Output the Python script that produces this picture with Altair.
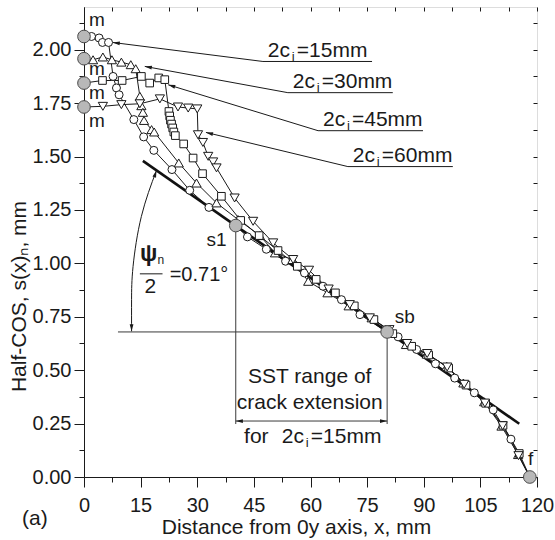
import math
import altair as alt
import pandas as pd

# plot area and value ranges
W, H = 453, 470
X_MAX, Y_MAX = 120.0, 2.2
PX_X, PX_Y = W / X_MAX, H / Y_MAX

FONT = "Liberation Sans"
INK = "#1a1a1a"
THIN = "#3a3a3a"

# half crack opening profiles s(x)_n for four initial crack lengths 2c_i
x_15 = [0, 2.0, 4.0, 4.9, 6.5, 7.7, 8.6, 9.3, 13.2, 15.8, 18.5, 23.3, 28.0, 33.1,
        40.2, 43.3, 48.3, 53.4, 58.4, 63.3, 68.2, 73.1, 80.3, 83.2, 88.1, 93.1,
        98.2, 103.4, 108.4, 113.1, 118.1]
s_15 = [2.062, 2.062, 2.055, 2.034, 2.034, 1.875, 1.821, 1.789, 1.673, 1.592, 1.529,
        1.439, 1.342, 1.262, 1.177, 1.124, 1.066, 1.010, 0.955, 0.893, 0.830, 0.760,
        0.679, 0.656, 0.597, 0.530, 0.463, 0.394, 0.314, 0.177, 0.0]

x_30 = [0, 2.4, 5.0, 7.4, 9.9, 12.4, 13.7, 14.8, 15.2, 15.6, 15.9, 17.9, 18.6, 25.1,
        29.8, 35.1, 40.8, 46.6, 50.6, 55.2, 59.4, 64.5, 70.1, 76.2, 80.9, 85.3, 90.8,
        96.1, 100.5, 106.0, 110.6, 115.0, 118.1]
s_30 = [1.958, 1.953, 1.966, 1.953, 1.942, 1.930, 1.911, 1.782, 1.738, 1.707, 1.669,
        1.626, 1.615, 1.470, 1.376, 1.283, 1.205, 1.130, 1.049, 1.018, 0.916, 0.862,
        0.801, 0.745, 0.684, 0.620, 0.575, 0.518, 0.440, 0.352, 0.238, 0.105, 0.0]

x_45 = [0, 4.9, 10.1, 15.2, 17.4, 19.8, 21.4, 22.5, 22.7, 22.9, 23.2, 23.5, 23.8, 24.2,
        26.4, 28.9, 31.4, 36.4, 41.5, 46.4, 51.4, 56.5, 61.5, 66.6, 71.6, 76.8, 81.8,
        86.8, 91.3, 96.6, 101.2, 106.4, 111.0, 115.3, 118.1]
s_45 = [1.844, 1.856, 1.856, 1.875, 1.844, 1.868, 1.860, 1.711, 1.690, 1.670, 1.652,
        1.634, 1.615, 1.598, 1.559, 1.493, 1.420, 1.314, 1.201, 1.130, 1.060, 0.986,
        0.925, 0.862, 0.801, 0.737, 0.671, 0.612, 0.571, 0.510, 0.430, 0.345, 0.242,
        0.110, 0.0]

x_60 = [0, 5.0, 9.9, 14.8, 20.1, 24.9, 27.6, 30.0, 30.2, 31.5, 32.9, 34.2, 35.1, 39.9,
        44.8, 50.1, 55.4, 59.6, 64.8, 70.4, 75.7, 80.9, 85.6, 90.9, 96.2, 100.7, 106.2,
        110.9, 115.1, 118.1]
s_60 = [1.732, 1.735, 1.743, 1.747, 1.770, 1.732, 1.727, 1.723, 1.602, 1.566, 1.501,
        1.475, 1.447, 1.306, 1.197, 1.096, 1.018, 0.968, 0.880, 0.807, 0.745, 0.690,
        0.625, 0.578, 0.515, 0.434, 0.346, 0.240, 0.100, 0.0]

series_names = ["15", "30", "45", "60"]
series_shapes = ["circle", "triangle-up", "square", "triangle-down"]
series_sizes = [64, 85, 58, 85]

# characteristic points: m (mouth), s1, sb, f (front)
key_x = [0, 0, 0, 0, 40.2, 80.3, 118.1]
key_s = [2.062, 1.958, 1.844, 1.732, 1.177, 0.679, 0.0]

# straight-line fit of the stable part of the profile
fit_x = [15.6, 115.3]
fit_s = [1.480, 0.249]

# leader lines for the 2c_i labels: arrow tip, knee, end of underline
lead_mm = ["=15mm", "=30mm", "=45mm", "=60mm"]
tip_x = [7.6, 16.1, 22.3, 32.3]
tip_s = [2.034, 1.922, 1.836, 1.613]
knee_x = [47.4, 54.0, 62.0, 69.9]
knee_s = [1.945, 1.799, 1.621, 1.453]
end_x = [76.3, 81.8, 89.8, 97.7]

# angle arc between the fit line and the horizontal through sb
arc_x = [19.2, 15.2, 13.0, 12.6, 12.6]
arc_s = [1.435, 1.220, 0.986, 0.830, 0.682]

SST_Y = 0.262      # level of the SST range arrow
DROP_Y = 0.248     # lower end of the s1 / sb drop lines
HLINE_X0 = 9.0     # start of the horizontal reference line


def xq(axis=None):
    return alt.X("x:Q", scale=alt.Scale(domain=[0, X_MAX], nice=False, zero=False), axis=axis)


def yq(axis=None):
    return alt.Y("y:Q", scale=alt.Scale(domain=[0, Y_MAX], nice=False, zero=False), axis=axis)


x_axis = alt.Axis(
    orient="bottom",
    values=[i * 7.5 for i in range(17)],
    labelExpr="datum.value % 15 === 0 ? format(datum.value, 'd') : ''",
    tickSize={"condition": {"test": "datum.value % 15 !== 0", "value": 5}, "value": 10},
    labelPadding=8, labelFontSize=20, labelFont=FONT, labelColor=INK,
    domainColor=INK, tickColor=INK, grid=False, labelFlush=False,
    title="Distance from 0y axis, x, mm", titleFont=FONT, titleFontSize=21,
    titleFontWeight="normal", titleColor=INK, titleX=212, titleY=56,
    titleAlign="center", titleBaseline="alphabetic",
)
y_axis = alt.Axis(
    orient="left",
    values=[i * 0.125 for i in range(18)],
    labelExpr="round(datum.value * 8) % 2 === 0 ? format(datum.value, '.2f') : ''",
    tickSize={"condition": {"test": "round(datum.value * 8) % 2 === 1", "value": 5}, "value": 10},
    labelPadding=3, labelFontSize=20, labelFont=FONT, labelColor=INK,
    domainColor=INK, tickColor=INK, grid=False, labelFlush=False,
    title="Half-COS, s(x)ₙ, mm", titleFont=FONT, titleFontSize=21,
    titleFontWeight="normal", titleColor=INK, titleAngle=270, titleX=-59, titleY=289,
    titleAlign="center", titleBaseline="alphabetic",
)
# short inward ticks on the top and right frame
top_axis = alt.Axis(orient="top", values=[i * 7.5 for i in range(17)], labels=False,
                    domain=False, tickSize=4, offset=-4, tickColor=INK, grid=False, title=None)
right_axis = alt.Axis(orient="right", values=[i * 0.125 for i in range(18)], labels=False,
                      domain=False, tickSize=4, offset=-4, tickColor=INK, grid=False, title=None)

# long table of all profiles
rows = []
for name, xs, ss in zip(series_names, [x_15, x_30, x_45, x_60], [s_15, s_30, s_45, s_60]):
    n = len(xs)
    for i, (a, b) in enumerate(zip(xs, ss)):
        rows.append({"series": name, "i": i, "x": a, "y": b, "mark": 0 < i < n - 1})
prof = pd.DataFrame(rows)

lines = alt.Chart(prof).mark_line(color=INK, strokeWidth=1).encode(
    x=xq(x_axis), y=yq(y_axis), detail="series:N", order="i:Q")

fit = alt.Chart(pd.DataFrame({"x": fit_x, "y": fit_s})).mark_line(
    color="#111111", strokeWidth=2.6).encode(x=xq(top_axis), y=yq(right_axis))

# reference lines: horizontal through sb, drops from s1 and sb, SST range
ref = pd.DataFrame({
    "x": [HLINE_X0, key_x[4], key_x[5], key_x[4]],
    "x2": [key_x[5], key_x[4], key_x[5], key_x[5]],
    "y": [key_s[5], key_s[4], key_s[5], SST_Y],
    "y2": [key_s[5], DROP_Y, DROP_Y, SST_Y],
})
ref_lines = alt.Chart(ref).mark_rule(color=THIN, strokeWidth=1).encode(
    x=xq(), x2="x2:Q", y=yq(), y2="y2:Q")

arc = alt.Chart(pd.DataFrame({"x": arc_x, "y": arc_s, "i": range(len(arc_x))})).mark_line(
    color=INK, strokeWidth=1, interpolate="natural").encode(x=xq(), y=yq(), order="i:Q")

lead_rows = []
for k in range(4):
    for j, (a, b) in enumerate([(tip_x[k], tip_s[k]), (knee_x[k], knee_s[k]), (end_x[k], knee_s[k])]):
        lead_rows.append({"k": k, "i": j, "x": a, "y": b})
leaders = alt.Chart(pd.DataFrame(lead_rows)).mark_line(color=INK, strokeWidth=1).encode(
    x=xq(), y=yq(), detail="k:N", order="i:Q")


def heading(x0, y0, x1, y1):
    """Clockwise screen angle (from up) of the direction (x0,y0) -> (x1,y1)."""
    dx = (x1 - x0) * PX_X
    dy = -(y1 - y0) * PX_Y
    return math.degrees(math.atan2(dx, -dy)) % 360


heads = []
for k in range(4):
    heads.append({"x": tip_x[k], "y": tip_s[k], "a": heading(knee_x[k], knee_s[k], tip_x[k], tip_s[k])})
heads.append({"x": arc_x[0], "y": arc_s[0], "a": heading(arc_x[1], arc_s[1], arc_x[0], arc_s[0])})
heads.append({"x": arc_x[-1], "y": arc_s[-1], "a": heading(arc_x[-2], arc_s[-2], arc_x[-1], arc_s[-1])})
heads.append({"x": key_x[4], "y": SST_Y, "a": heading(key_x[5], SST_Y, key_x[4], SST_Y)})
heads.append({"x": key_x[5], "y": SST_Y, "a": heading(key_x[4], SST_Y, key_x[5], SST_Y)})
arrowheads = alt.Chart(pd.DataFrame(heads)).mark_point(
    shape="M0,0L-0.45,1.7L0.45,1.7Z", filled=True, color=INK, size=70, opacity=1).encode(
    x=xq(), y=yq(), angle=alt.Angle("a:Q", scale=None))

point_layers = []
for name, shp, sz in zip(series_names, series_shapes, series_sizes):
    d = prof[(prof["series"] == name) & prof["mark"]]
    point_layers.append(
        alt.Chart(d).mark_point(shape=shp, size=sz, filled=True, fill="white",
                                stroke=INK, strokeWidth=1, opacity=1).encode(x=xq(), y=yq()))

keys = alt.Chart(pd.DataFrame({"x": key_x, "y": key_s})).mark_point(
    shape="circle", size=160, filled=True, fill="#b8b8b8", stroke="#4a4a4a",
    strokeWidth=1, opacity=1).encode(x=xq(), y=yq())


def note(text, x, y, size=21, align="left", weight="normal", dx=0, dy=0):
    return alt.Chart(pd.DataFrame({"x": [x], "y": [y], "t": [text]})).mark_text(
        align=align, baseline="alphabetic", fontSize=size, font=FONT,
        fontWeight=weight, color=INK, dx=dx, dy=dy).encode(x=xq(), y=yq(), text="t:N")


def crack_label(tail, x, y):
    """'2c' with a lowered subscript i, followed by the length text."""
    return [
        note("2c", x, y),
        note("i", x, y, size=13, dx=24, dy=4),
        note(tail, x, y, dx=29),
    ]


notes = []
for k in range(4):
    notes += crack_label(lead_mm[k], knee_x[k] + 1.3, knee_s[k] + 0.021)
for yy in [2.109, 1.883, 1.769, 1.638]:
    notes.append(note("m", 1.3, yy, size=19))
notes += [
    note("s1", 37.8, 1.080, size=19, align="right"),
    note("sb", 82.3, 0.721, size=19),
    note("f", 117.6, 0.058, size=19),
    note("ψ", 17.1, 1.013, size=23, align="center", weight="bold"),
    note("n", 19.5, 0.996, size=12),
    note("2", 17.6, 0.862, size=21, align="center"),
    note("=0.71°", 22.7, 0.916, size=20),
    note("SST range of", 59.8, 0.441, align="center"),
    note("crack extension", 59.8, 0.316, align="center"),
    note("for", 42.4, 0.160),
]
notes += crack_label("=15mm", 52.4, 0.160)

frac_bar = alt.Chart(pd.DataFrame({"x": [14.8], "x2": [20.8], "y": [0.951]})).mark_rule(
    color=INK, strokeWidth=1).encode(x=xq(), x2="x2:Q", y=yq())

panel = alt.Chart(pd.DataFrame({"t": ["(a)"]})).mark_text(
    align="left", baseline="alphabetic", fontSize=21, font=FONT, color=INK).encode(
    x=alt.value(-62), y=alt.value(518), text="t:N")

chart = alt.layer(
    lines, fit, ref_lines, arc, leaders, arrowheads, *point_layers, keys,
    frac_bar, *notes, panel,
).resolve_axis(x="independent", y="independent").properties(
    width=W, height=H,
    padding={"left": 84, "top": 7, "right": 18, "bottom": 63},
    autosize="none",
).configure_view(stroke=INK, strokeWidth=1).configure(background="white")

chart.save("out.html", embed_options={"renderer": "svg", "actions": False})
